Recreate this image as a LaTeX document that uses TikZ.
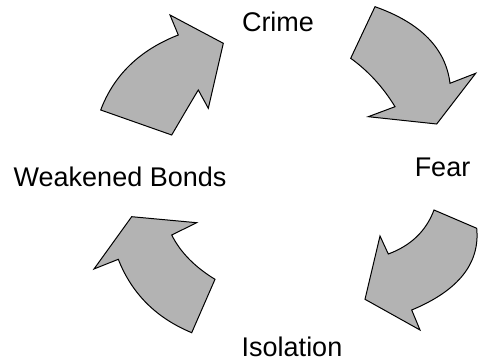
\documentclass[tikz,border=0pt]{standalone}
\usepackage{fontspec}
\setmainfont{Liberation Sans}
\usetikzlibrary{calc,positioning}
\definecolor{arrowgray}{RGB}{179,179,179}

\begin{document}
\begin{tikzpicture}[x=0.5pt,y=-0.5pt,
		cyclearrow/.style={fill=arrowgray,draw=black,line width=0.5pt,line join=miter},
		label/.style={inner sep=0pt,font=\fontsize{13.5}{16}\selectfont}]
		\useasboundingbox (0,0) rectangle (481,362);
		% labels of the cycle
		\node[label,anchor=base] (crime) at (278,31.7) {Crime};
		\node[label,anchor=base] (fear) at (442.5,177) {Fear};
		\node[label,anchor=base] (isolation) at (292,356.7) {Isolation};
		\node[label,anchor=base west] (bonds) at (13.3,186.7) {Weakened Bonds};
		% bonds -> crime
		\draw[cyclearrow]
			(100.7,110) -- (171.7,135)
			.. controls (185,112.3) and (193.8,97.3) .. (198.3,90)
			-- (208.3,108.3) -- (223.3,43.3) -- (170,15) -- (178.3,35)
			.. controls (139.8,50) and (113.9,75) .. (100.7,110)
			-- cycle;
		% crime -> fear
		\draw[cyclearrow]
			(375,6.7) -- (350.7,58.3)
			.. controls (368.4,71.1) and (383.1,87.2) .. (395,106.7)
			-- (368.3,116.7) -- (436.7,124) -- (475.7,73.3) -- (450,83.3)
			.. controls (445.7,48.4) and (420.7,22.9) .. (375,6.7)
			-- cycle;
		% fear -> isolation
		\draw[cyclearrow]
			(434,210) -- (476.7,228.3)
			.. controls (480.1,263.4) and (458.4,290.6) .. (411.7,310)
			-- (420,330) -- (365,299.3) -- (380,236) -- (388.3,254)
			.. controls (411,245.6) and (426.2,230.9) .. (434,210)
			-- cycle;
		% isolation -> bonds
		\draw[cyclearrow]
			(131.7,216.7) -- (196.7,222.7) -- (171.7,235)
			.. controls (180.4,252.3) and (194.8,267) .. (215,279.3)
			-- (191.7,332.7)
			.. controls (156.2,318) and (131.7,293.5) .. (118.3,259.3)
			-- (94,269)
			-- cycle;
	\end{tikzpicture}
\end{document}
